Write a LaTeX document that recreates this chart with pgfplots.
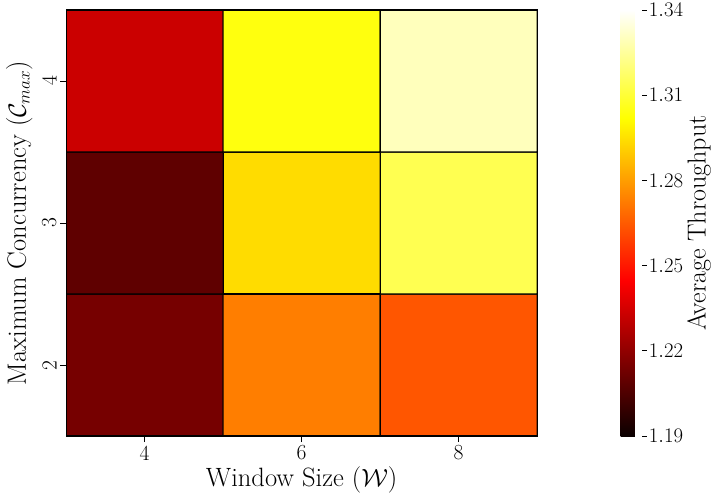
\documentclass[border=0pt]{standalone}
\usepackage{pgfplots}
\pgfplotsset{compat=1.18}
\pgfplotstableread{
x y c
0 0 1.214
1 0 1.273
2 0 1.264

0 1 1.209
1 1 1.294
2 1 1.314

0 2 1.233
1 2 1.304
2 2 1.330
}\heatdata
\begin{document}
\begin{tikzpicture}
\begin{axis}[
  scale only axis, width=471pt, height=426pt,
  xmin=-0.5,xmax=2.5,ymin=-0.5,ymax=2.5,
  enlargelimits=false,
  xtick={0,1,2}, xticklabels={4,6,8},
  ytick={0,1,2}, yticklabels={2,3,4},
  yticklabel style={rotate=90, anchor=south},
  tick pos=left, tick align=outside, major tick length=6pt,
  tick style={black, line width=0.8pt},
  ticklabel style={font=\fontsize{21.5}{25}\selectfont},
  label style={font=\fontsize{26.5}{31}\selectfont},
  xlabel={Window Size ($\mathcal{W}$)},
  ylabel={Maximum Concurrency ($\mathcal{C}_{max}$)},
  ylabel style={inner ysep=6pt},
  axis line style={black, line width=1.2pt},
  colormap={mplhot}{rgb(0pt)=(0.0416,0,0); rgb(365pt)=(1,0,0); rgb(746pt)=(1,1,0); rgb(1000pt)=(1,1,1)},
  point meta min=1.19, point meta max=1.34,
  colorbar,
  colorbar style={
    scale only axis, width=21pt, at={(parent axis.north east)}, anchor=north west, xshift=75pt,
    xmin=0, xmax=1, enlargelimits=false,
    ytick={1.19,1.22,1.25,1.28,1.31,1.34},
    ytick pos=right, tick align=outside, major tick length=5pt,
    tick style={black, line width=0.8pt},
    yticklabel style={font=\fontsize{20.5}{24}\selectfont, inner xsep=2pt, /pgf/number format/fixed, /pgf/number format/fixed zerofill, /pgf/number format/precision=2},
    ylabel={Average Throughput},
    ylabel style={font=\fontsize{26}{31}\selectfont, inner ysep=2pt},
    axis line style={draw=none},
  },
  axis on top,
]
\addplot[matrix plot*, mesh/cols=3, point meta=explicit, draw=black, line width=1.2pt] table[meta=c] {\heatdata};
\end{axis}
\end{tikzpicture}
\end{document}
